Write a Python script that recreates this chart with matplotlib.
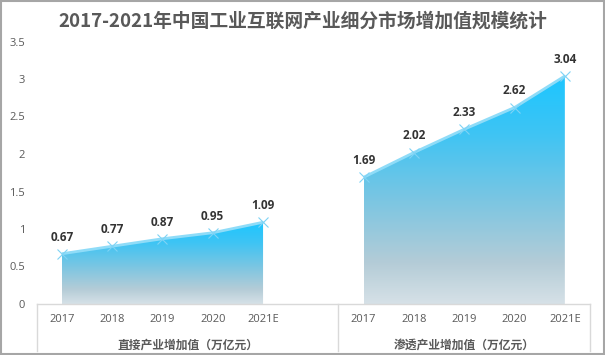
import matplotlib
matplotlib.use("Agg")
import matplotlib.pyplot as plt
import numpy as np
from matplotlib.colors import LinearSegmentedColormap
from matplotlib.patches import Polygon, Rectangle
from matplotlib.transforms import blended_transform_factory

plt.rcParams["font.family"] = ["Open Sans", "Noto Sans CJK SC", "DejaVu Sans"]

years = ["2017", "2018", "2019", "2020", "2021E"]
direct_vals = [0.67, 0.77, 0.87, 0.95, 1.09]
indirect_vals = [1.69, 2.02, 2.33, 2.62, 3.04]
groups = ["直接产业增加值（万亿元）", "渗透产业增加值（万亿元）"]
title = "2017-2021年中国工业互联网产业细分市场增加值规模统计"

W, H = 605, 355
fig = plt.figure(figsize=(W / 100, H / 100), dpi=100)
ax = fig.add_axes([36.7 / W, 1 - 304 / H, (590 - 36.7) / W, (304 - 41.5) / H])
ax.set_xlim(-0.5, 10.5)
ax.set_ylim(0, 3.5)

cmap = LinearSegmentedColormap.from_list("grad", [
    (0.0, "#d6e1e7"), (0.18, "#b4ccd7"), (0.45, "#7cc6e2"),
    (0.75, "#3ec4f4"), (1.0, "#1dc6ff")])
grad = np.linspace(0, 1, 256).reshape(-1, 1)

for offset, vals in [(0, direct_vals), (6, indirect_vals)]:
    xs = np.arange(len(vals)) + offset
    top = max(vals)
    verts = [(xs[0], 0)] + list(zip(xs, vals)) + [(xs[-1], 0)]
    poly = Polygon(verts, closed=True, facecolor="none", edgecolor="none")
    ax.add_patch(poly)
    im = ax.imshow(grad, cmap=cmap, aspect="auto", origin="lower",
                   extent=[xs[0], xs[-1], 0, top], zorder=1)
    im.set_clip_path(poly)
    ax.plot(xs, vals, color="#8fdcf8", lw=2, zorder=2, solid_capstyle="butt")
    ax.plot(xs, vals, ls="none", marker="x", ms=7, mew=0.8, color="#7fd3f5", zorder=3)
    for x, v in zip(xs, vals):
        ax.annotate(f"{v:.2f}", (x, v), xytext=(0, 12), textcoords="offset points",
                    ha="center", va="center", fontsize=8.5, fontweight="bold",
                    color="#333333")

ax.set_xlim(-0.5, 10.5)
ax.set_ylim(0, 3.5)

ax.set_xticks([])
yt = np.arange(0, 3.51, 0.5)
ax.set_yticks(yt)
ax.set_yticklabels([f"{v:g}" for v in yt], fontsize=8, color="#595959")
ax.tick_params(axis="y", length=0, pad=8.4)
for s in ["left", "top", "right"]:
    ax.spines[s].set_visible(False)
ax.spines["bottom"].set_color("#d9d9d9")
ax.spines["bottom"].set_linewidth(1)

trans = blended_transform_factory(ax.transData, ax.transAxes)
ah = (304 - 41.5)
for x in [-0.5, 5.5, 10.5]:
    ax.plot([x, x], [0, -(351 - 304) / ah], color="#d9d9d9", lw=1,
            transform=trans, clip_on=False)
for offset in [0, 6]:
    for i, y in enumerate(years):
        ax.text(offset + i, -15 / ah, y, transform=trans, ha="center", va="center",
                fontsize=8, color="#595959")
for cx, g in zip([2.5, 8.0], groups):
    ax.text(cx, -41 / ah, g, transform=trans, ha="center", va="center",
            fontsize=8.5, fontweight="bold", color="#595959",
            family=["Noto Sans CJK SC", "DejaVu Sans"])

fig.text(0.5, 1 - 21 / H, title, ha="center", va="center", fontsize=13.5,
         fontweight="bold", color="#595959", family=["Noto Sans CJK SC", "DejaVu Sans"])

fig.patches.append(Rectangle((0.001, 0.003), 0.997, 0.995, transform=fig.transFigure,
                             fill=False, edgecolor="#a6a6a6", lw=1.5))

fig.savefig("out.png", dpi=100)
